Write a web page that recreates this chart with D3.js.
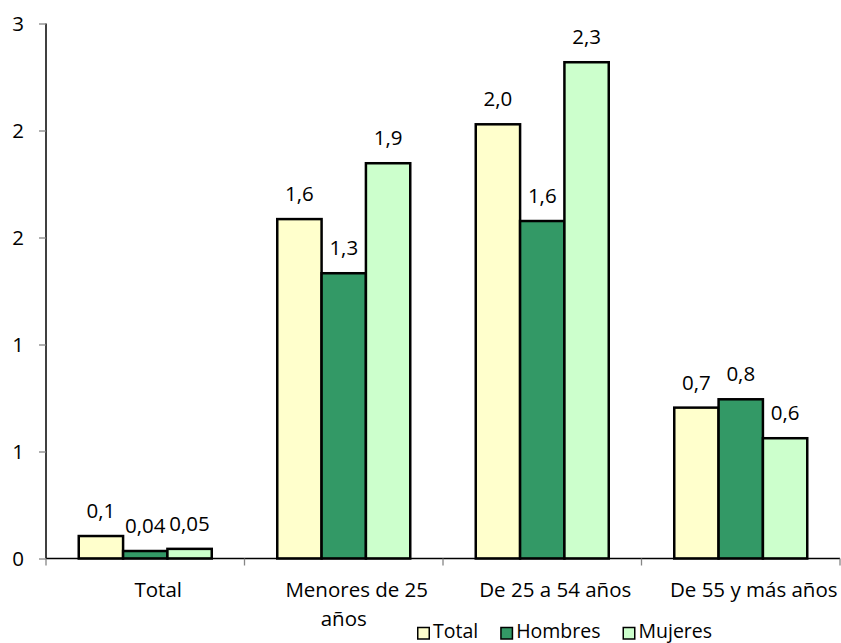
<!DOCTYPE html>
<html>
<head>
<meta charset="utf-8">
<script src="https://cdn.jsdelivr.net/npm/d3@7"></script>
<style>
  html, body { margin: 0; padding: 0; background: #fff; }
  svg { display: block; font-family: "Open Sans", sans-serif; }
</style>
</head>
<body>
<svg id="chart" width="841" height="643"></svg>
<script>
// ---- data ----
const categories = ["Total", "Menores de 25 años", "De 25 a 54 años", "De 55 y más años"];
const categoryLines = [["Total"], ["Menores de 25", "años"], ["De 25 a 54 años"], ["De 55 y más años"]];
const seriesNames = ["Total", "Hombres", "Mujeres"];
const totalValues   = [0.105, 1.586, 2.029, 0.705];
const hombresValues = [0.035, 1.333, 1.577, 0.744];
const mujeresValues = [0.045, 1.847, 2.319, 0.562];
const totalLabels   = ["0,1", "1,6", "2,0", "0,7"];
const hombresLabels = ["0,04", "1,3", "1,6", "0,8"];
const mujeresLabels = ["0,05", "1,9", "2,3", "0,6"];
const yTickValues = [0, 0.5, 1, 1.5, 2, 2.5];
const yTickLabels = ["0", "1", "1", "2", "2", "3"];
const colors = ["#FFFFCC", "#339966", "#CCFFCC"];

const seriesValues = [totalValues, hombresValues, mujeresValues];
const seriesLabels = [totalLabels, hombresLabels, mujeresLabels];

// ---- layout ----
const svg = d3.select("#chart");
const plot = { left: 46, right: 840, top: 23.5, bottom: 558.5 };
const fontSize = 20.5;

const x0 = d3.scaleBand().domain(categories).range([plot.left, plot.right]).paddingInner(0).paddingOuter(0);
const groupPad = 32.75;
const x1 = d3.scaleBand().domain(seriesNames).range([groupPad, x0.bandwidth() - groupPad]).padding(0);
const y = d3.scaleLinear().domain([0, 2.5]).range([plot.bottom, plot.top]);

// ---- y axis ----
const yAxis = d3.axisLeft(y).tickValues(yTickValues)
  .tickFormat((d, i) => yTickLabels[i]).tickSize(7).tickPadding(14);
const gy = svg.append("g").attr("transform", `translate(${plot.left},0)`).call(yAxis);
gy.select(".domain").attr("stroke", "#000").attr("stroke-width", 1.5).attr("d", `M0,${plot.top}V${plot.bottom}`);
gy.selectAll(".tick line").attr("stroke", "#868686").attr("stroke-width", 1.3);
gy.selectAll(".tick text").attr("font-size", fontSize).attr("fill", "#000")
  .attr("font-family", "Open Sans, sans-serif").attr("dy", "0.35em").attr("x", -22);

// ---- bars ----
const groups = svg.append("g").selectAll("g").data(categories).join("g")
  .attr("transform", d => `translate(${x0(d)},0)`);

groups.each(function(cat, ci) {
  const g = d3.select(this);
  seriesNames.forEach((s, si) => {
    const v = seriesValues[si][ci];
    g.append("rect")
      .attr("x", x1(s))
      .attr("y", y(v))
      .attr("width", x1.bandwidth())
      .attr("height", y(0) - y(v))
      .attr("fill", colors[si])
      .attr("stroke", "#000")
      .attr("stroke-width", 2.5);
    g.append("text")
      .attr("x", x1(s) + x1.bandwidth() / 2)
      .attr("y", y(v) - 18)
      .attr("text-anchor", "middle")
      .attr("font-size", fontSize)
      .attr("fill", "#000")
      .text(seriesLabels[si][ci]);
  });
});

// ---- x axis ----
const xAxis = d3.axisBottom(x0).tickSize(0).tickFormat("");
const gx = svg.append("g").attr("transform", `translate(0,${plot.bottom})`).call(xAxis);
gx.select(".domain").attr("stroke", "#000").attr("stroke-width", 1.5).attr("d", `M${plot.left},0H${plot.right}`);
gx.selectAll(".tick").remove();
// boundary tick marks
const boundaries = categories.map(c => x0(c)).concat([x0(categories[categories.length - 1]) + x0.bandwidth()]);
gx.selectAll("line.bt").data(boundaries).join("line").attr("class", "bt")
  .attr("x1", d => d).attr("x2", d => d).attr("y1", 0).attr("y2", 7)
  .attr("stroke", "#868686").attr("stroke-width", 1.3);

// category labels
categories.forEach((c, ci) => {
  const cx = x0(c) + x0.bandwidth() / 2;
  const lines = categoryLines[ci];
  lines.forEach((ln, li) => {
    svg.append("text")
      .attr("x", cx + (li === 0 ? 13 : 0))
      .attr("y", plot.bottom + 38.5 + li * 29)
      .attr("text-anchor", "middle")
      .attr("font-size", fontSize)
      .attr("fill", "#000")
      .text(ln);
  });
});

// ---- legend ----
const legend = svg.append("g").attr("transform", "translate(417,0)");
let lx = 0;
seriesNames.forEach((s, si) => {
  legend.append("rect").attr("x", lx + 0.75).attr("y", 627.5).attr("width", 11.5).attr("height", 11.5)
    .attr("fill", colors[si]).attr("stroke", "#000").attr("stroke-width", 1.5);
  const t = legend.append("text").attr("x", lx + 16).attr("y", 638)
    .attr("font-size", 19.5).attr("fill", "#000").text(s);
  lx += 16 + t.node().getComputedTextLength() + 22;
});
</script>
</body>
</html>
